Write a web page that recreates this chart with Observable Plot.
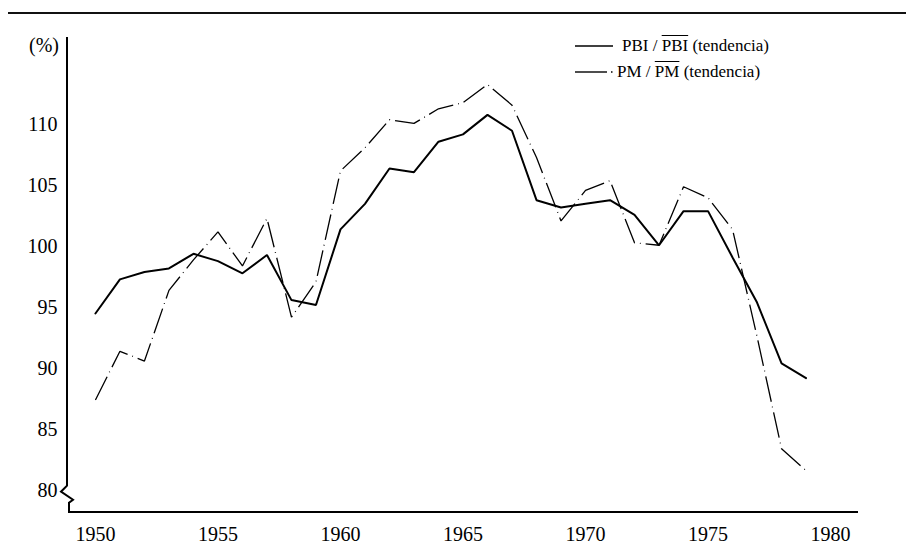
<!DOCTYPE html>
<html>
<head>
<meta charset="utf-8">
<script src="https://cdn.jsdelivr.net/npm/d3@7"></script>
<script src="https://cdn.jsdelivr.net/npm/@observablehq/plot@0.6"></script>
<style>
  html, body { margin: 0; padding: 0; background: #fff; }
  #wrap { position: relative; width: 906px; height: 553px; overflow: hidden; font-family: "Liberation Serif", "Times New Roman", "DejaVu Serif", serif; color: #000; }
  #chart { position: absolute; left: 0; top: 0; }
  .rule { position: absolute; left: 8px; top: 12px; width: 898px; height: 2px; background: #111; }
  .unit { position: absolute; left: 20px; width: 39px; text-align: right; font-size: 20px; line-height: 20px; top: 35px; }
  .leg { position: absolute; font-size: 17px; line-height: 16px; white-space: nowrap; }
  .ov { text-decoration: overline; }
  .samp { position: absolute; }
</style>
</head>
<body>
<div id="wrap">
  <div class="rule"></div>
  <div id="chart"></div>
  <div class="unit">(%)</div>
  <svg class="samp" style="left:570px;top:40px" width="50" height="40">
    <line x1="5" y1="6" x2="43" y2="6" stroke="#000" stroke-width="1.6"/>
    <line x1="5" y1="32" x2="37" y2="32" stroke="#000" stroke-width="1.4"/>
    <line x1="41" y1="32" x2="42.5" y2="32" stroke="#000" stroke-width="1.4"/>
  </svg>
  <div class="leg" style="left:622px;top:38px">PBI / <span class="ov">PBI</span> (tendencia)</div>
  <div class="leg" style="left:617px;top:64px">PM / <span class="ov">PM</span> (tendencia)</div>
</div>
<script>
const years = [1950,1951,1952,1953,1954,1955,1956,1957,1958,1959,1960,1961,1962,1963,1964,1965,1966,1967,1968,1969,1970,1971,1972,1973,1974,1975,1976,1977,1978,1979];
const pbi = [94.5,97.3,97.9,98.2,99.4,98.8,97.8,99.3,95.6,95.2,101.4,103.5,106.4,106.1,108.6,109.2,110.8,109.5,103.8,103.2,103.5,103.8,102.6,100.1,102.9,102.9,99.1,95.4,90.4,89.2];
const pm = [87.4,91.4,90.6,96.4,98.9,101.2,98.4,102.3,94.2,97.1,106.2,108.1,110.4,110.1,111.3,111.8,113.3,111.6,107.3,102.1,104.6,105.4,100.3,100.1,104.9,104.0,101.4,92.6,83.4,81.6];
const xTicks = [1950,1955,1960,1965,1970,1975,1980];
const yTicks = [80,85,90,95,100,105,110];

const pbiData = years.map((year, i) => ({year, v: pbi[i]}));
const pmData = years.map((year, i) => ({year, v: pm[i]}));

// axis line with a scale break at the bottom of the y axis
function axisFrame(index, scales, values, dim) {
  const left = dim.marginLeft, top = dim.marginTop;
  const bottom = dim.height - dim.marginBottom, right = dim.width - dim.marginRight;
  const yb = scales.y(80) - 4;
  const d = `M${left},${top}L${left},${yb}L${left-6},${yb+6}L${left+6},${yb+14}L${left+2},${yb+17}L${left+2},${bottom}L${right},${bottom}`;
  return d3.create("svg:path")
    .attr("d", d).attr("fill", "none").attr("stroke", "#000").attr("stroke-width", 2)
    .attr("stroke-linejoin", "miter").node();
}

const chart = Plot.plot({
  width: 906,
  height: 553,
  marginLeft: 67,
  marginRight: 48,
  marginTop: 37,
  marginBottom: 41,
  style: {fontFamily: '"Liberation Serif", "Times New Roman", "DejaVu Serif", serif', fontSize: "20px", color: "#000", background: "transparent"},
  x: {domain: [1948.86, 1981.14]},
  y: {domain: [78.17, 117.15]},
  marks: [
    Plot.axisX({ticks: xTicks, tickSize: 0, tickPadding: 14, tickFormat: d => String(d), label: null}),
    Plot.axisY({ticks: yTicks, tickSize: 0, tickPadding: 10, tickFormat: d => String(d), label: null}),
    axisFrame,
    Plot.line(pmData, {x: "year", y: "v", stroke: "#000", strokeWidth: 1.3, strokeDasharray: "26,5,0.8,5", strokeLinejoin: "miter", strokeLinecap: "butt"}),
    Plot.line(pbiData, {x: "year", y: "v", stroke: "#000", strokeWidth: 2, strokeLinejoin: "miter"})
  ]
});
document.getElementById("chart").appendChild(chart);
</script>
</body>
</html>
